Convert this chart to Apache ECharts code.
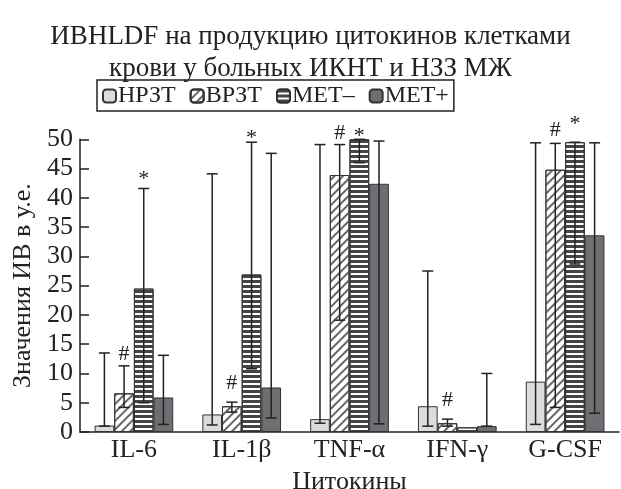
<!DOCTYPE html>
<html>
<head>
<meta charset="utf-8" />
<title>ИВHLDF</title>
<style>
  html, body { margin: 0; padding: 0; background: #fff; }
  #chart { width: 621px; height: 489px; }
</style>
</head>
<body>
<div id="chart"></div>
<script src="https://cdn.jsdelivr.net/npm/echarts@6/dist/echarts.min.js"></script>
<script>
var categories = ['IL-6', 'IL-1β', 'TNF-α', 'IFN-γ', 'G-CSF'];
var seriesNames = ['НРЗТ', 'ВРЗТ', 'МЕТ–', 'МЕТ+'];
var yTicks = [0, 5, 10, 15, 20, 25, 30, 35, 40, 45, 50];

// средние значения
var nrzt     = [1.1, 3.0, 2.2, 4.4, 8.6];
var vrzt     = [6.6, 4.4, 43.9, 1.5, 44.8];
var metMinus = [24.5, 26.9, 50.0, 0.8, 49.5];
var metPlus  = [5.9, 7.6, 42.4, 1.0, 33.6];

// нижняя / верхняя граница разброса
var nrztLow      = [1.0, 1.2, 1.5, 1.0, 1.3];
var nrztHigh     = [13.5, 44.1, 49.1, 27.5, 49.4];
var vrztLow      = [4.2, 3.4, 19.1, 1.0, 4.2];
var vrztHigh     = [11.3, 5.1, 49.1, 2.2, 49.3];
var metMinusLow  = [5.0, 10.8, 46.0, null, 28.7];
var metMinusHigh = [41.6, 49.5, 50.0, null, 49.5];
var metPlusLow   = [1.3, 2.4, 1.4, 1.0, 3.2];
var metPlusHigh  = [13.1, 47.6, 49.7, 10.0, 49.4];

// значки достоверности: категория, серия, знак, уровень
var markCat  = [0, 0, 1, 1, 2, 2, 3, 4, 4];
var markSer  = [1, 2, 1, 2, 1, 2, 1, 1, 2];
var markText = ['#', '*', '#', '*', '#', '*', '#', '#', '*'];
var markVal  = [13.3, 44.2, 8.4, 51.2, 51.0, 51.5, 5.5, 51.5, 53.6];

var _font = 'Liberation Serif';
var _fontSize = 26;
var _catGap = 0.27;

var lows = [nrztLow, vrztLow, metMinusLow, metPlusLow];
var highs = [nrztHigh, vrztHigh, metMinusHigh, metPlusHigh];
var errData = [];
for (var s = 0; s < 4; s++) {
  for (var c = 0; c < categories.length; c++) {
    if (lows[s][c] == null) continue;
    errData.push([c, s, lows[s][c], highs[s][c]]);
  }
}
var markData = [];
for (var i = 0; i < markCat.length; i++) {
  markData.push([markCat[i], markSer[i], markVal[i]]);
}

function barCenter(api, cat, ser) {
  var band = api.size([1, 0])[0];
  var barW = band * (1 - _catGap) / 4;
  return api.coord([cat, 0])[0] + (ser - 1.5) * barW;
}

var chart = echarts.init(document.getElementById('chart'));
var option = {
  animation: false,
  title: {
    text: 'ИВHLDF на продукцию цитокинов клетками\nкрови у больных ИКНТ и НЗЗ МЖ',
    left: 'center',
    top: 16,
    textStyle: { fontFamily: _font, fontSize: 27, fontWeight: 'normal', color: '#222', lineHeight: 32 }
  },
  legend: {
    data: seriesNames,
    left: 97,
    top: 80,
    padding: [4, 5, 3, 5],
    borderColor: '#222',
    borderWidth: 1.5,
    itemWidth: 13,
    itemHeight: 13,
    itemGap: 14,
    textStyle: { fontFamily: _font, fontSize: 24, color: '#222', padding: [0, 0, 0, -3] }
  },
  grid: { left: 80, right: 2, top: 139.3, bottom: 57, outerBoundsMode: 'none' },
  xAxis: {
    type: 'category',
    data: categories,
    name: 'Цитокины',
    nameLocation: 'middle',
    nameGap: 37,
    nameTextStyle: { fontFamily: _font, fontSize: _fontSize, color: '#222' },
    axisLine: { lineStyle: { color: '#222', width: 1.5 } },
    axisTick: { inside: true, length: 7, lineStyle: { color: '#222', width: 1.5 } },
    axisLabel: { fontFamily: _font, fontSize: _fontSize, color: '#222', margin: 5 }
  },
  yAxis: {
    type: 'value',
    min: yTicks[0],
    max: yTicks[yTicks.length - 1],
    interval: 5,
    name: 'Значения ИВ в у.е.',
    nameLocation: 'middle',
    nameGap: 44,
    nameTextStyle: { fontFamily: _font, fontSize: _fontSize, color: '#222' },
    axisLine: { show: true, lineStyle: { color: '#222', width: 1.5 } },
    axisTick: { show: true, inside: true, length: 9, lineStyle: { color: '#222', width: 1.5 } },
    axisLabel: { fontFamily: _font, fontSize: _fontSize, color: '#222', margin: 7 },
    splitLine: { show: false }
  },
  series: [{
    name: seriesNames[0],
    type: 'bar',
    barGap: 0,
    barCategoryGap: '27%',
    itemStyle: { color: '#dcdcdc', borderColor: '#333', borderWidth: 1 },
    data: nrzt
  }, {
    name: seriesNames[1],
    type: 'bar',
    itemStyle: {
      color: '#ffffff', borderColor: '#333', borderWidth: 1,
      decal: { symbol: 'rect', dashArrayX: [1, 0], dashArrayY: [1.6, 3.4], rotation: -Math.PI / 4, color: '#666' }
    },
    data: vrzt
  }, {
    name: seriesNames[2],
    type: 'bar',
    itemStyle: {
      color: '#ffffff', borderColor: '#333', borderWidth: 1,
      decal: { symbol: 'rect', dashArrayX: [1, 0], dashArrayY: [2.4, 1.6], rotation: 0, color: '#444' }
    },
    data: metMinus
  }, {
    name: seriesNames[3],
    type: 'bar',
    itemStyle: { color: '#6e6f72', borderColor: '#333', borderWidth: 1 },
    data: metPlus
  }, {
    // усы
    type: 'custom',
    z: 5,
    clip: false,
    renderItem: function (params, api) {
      var x = barCenter(api, api.value(0), api.value(1));
      var yLo = api.coord([api.value(0), api.value(2)])[1];
      var yHi = api.coord([api.value(0), api.value(3)])[1];
      var cap = 5.5;
      var st = { stroke: '#222', lineWidth: 1.5 };
      return {
        type: 'group',
        children: [
          { type: 'line', shape: { x1: x, y1: yLo, x2: x, y2: yHi }, style: st },
          { type: 'line', shape: { x1: x - cap, y1: yHi, x2: x + cap, y2: yHi }, style: st },
          { type: 'line', shape: { x1: x - cap, y1: yLo, x2: x + cap, y2: yLo }, style: st }
        ]
      };
    },
    encode: { x: 0, y: [2, 3] },
    data: errData
  }, {
    // # и *
    type: 'custom',
    z: 6,
    clip: false,
    renderItem: function (params, api) {
      var x = barCenter(api, api.value(0), api.value(1));
      var y = api.coord([api.value(0), api.value(2)])[1];
      var t = markText[params.dataIndex];
      return {
        type: 'text',
        style: {
          text: t, x: x, y: t == '*' ? y + 6 : y,
          align: 'center', verticalAlign: 'middle',
          font: '22px "' + _font + '"', fill: '#222'
        }
      };
    },
    encode: { x: 0, y: 2 },
    data: markData
  }]
};
chart.setOption(option);
</script>
</body>
</html>
